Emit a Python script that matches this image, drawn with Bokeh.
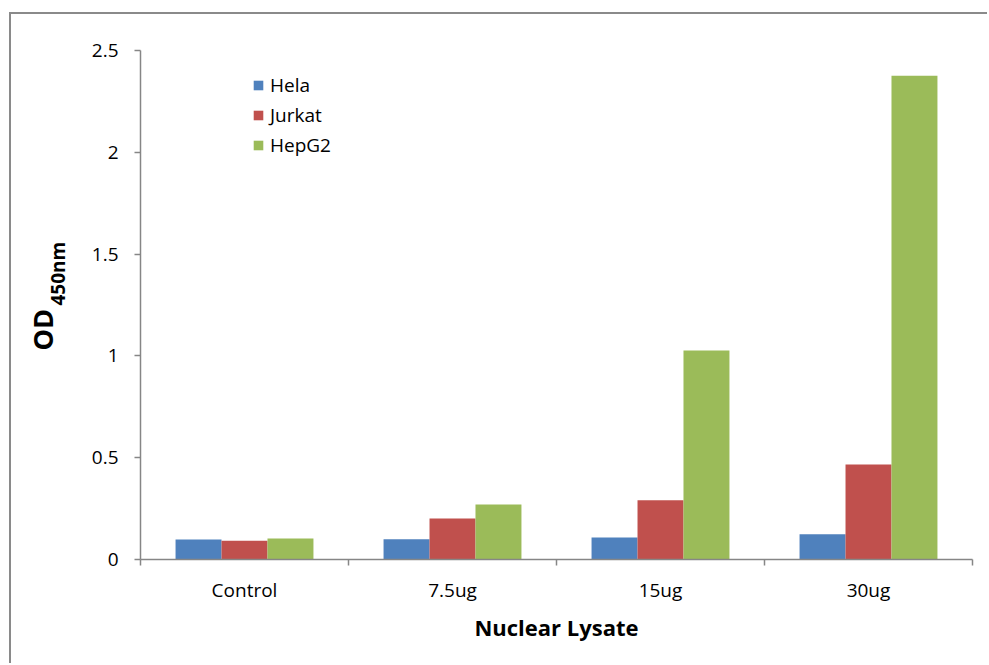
from bokeh.plotting import figure
from bokeh.models import (ColumnDataSource, FixedTicker, NumeralTickFormatter,
                          Range1d, Label, Legend)
from bokeh.transform import dodge
from bokeh.embed import file_html
from bokeh.resources import INLINE
import math

# ---- data ----
categories = ["Control", "7.5ug", "15ug", "30ug"]
hela = [0.098, 0.100, 0.108, 0.124]
jurkat = [0.092, 0.201, 0.291, 0.466]
hepg2 = [0.103, 0.270, 1.027, 2.376]
series_names = ["Hela", "Jurkat", "HepG2"]
series_colors = ["#4F81BD", "#C0504D", "#9BBB59"]
y_ticks = [0, 0.5, 1, 1.5, 2, 2.5]

FONT = "Open Sans"
AXIS_COLOR = "#868686"

xpos = [i + 0.5 for i in range(len(categories))]
src = ColumnDataSource(dict(x=xpos, cat=categories, Hela=hela, Jurkat=jurkat, HepG2=hepg2))

FW, FH = 832, 509
p = figure(
    frame_width=FW, frame_height=FH,
    min_border_left=129, min_border_top=36, min_border_right=15, min_border_bottom=104,
    x_range=Range1d(0, len(categories)), y_range=Range1d(0, 2.5),
    output_backend="svg", toolbar_location=None,
)
p.styles = {
    "border-top": "2px solid #8a8a8a",
    "border-left": "2px solid #8a8a8a",
    "margin-top": "12px",
    "margin-left": "9px",
}
p.extra_x_ranges = {"px": Range1d(0, FW)}
p.extra_y_ranges = {"py": Range1d(0, FH)}

p.background_fill_color = "white"
p.border_fill_color = "white"
p.outline_line_color = None
p.xgrid.visible = False
p.ygrid.visible = False

bw = 0.221
offsets = [-bw, 0.0, bw]
renderers = []
for name, color, off in zip(series_names, series_colors, offsets):
    r = p.vbar(x=dodge("x", off, range=p.x_range), top=name, width=bw, bottom=0,
               source=src, fill_color=color, line_color=None)
    renderers.append((name, r))

legend = Legend(items=[(n, [r]) for n, r in renderers])
legend.location = (112, 401)
legend.padding = 0
legend.margin = 0
legend.spacing = 4
legend.glyph_width = 12
legend.glyph_height = 12
legend.label_height = 26
legend.label_standoff = 6
legend.border_line_color = None
legend.background_fill_alpha = 0
legend.label_text_font = FONT
legend.label_text_font_size = "19px"
legend.label_text_color = "#000000"
p.add_layout(legend, "center")

# x axis
xa = p.xaxis[0]
xa.ticker = FixedTicker(ticks=xpos, minor_ticks=list(range(len(categories) + 1)))
xa.major_label_overrides = {x: c for x, c in zip(xpos, categories)}
xa.major_tick_line_color = None
xa.minor_tick_in = 0
xa.minor_tick_out = 6
xa.minor_tick_line_color = AXIS_COLOR
xa.minor_tick_line_width = 1.5
xa.axis_line_color = AXIS_COLOR
xa.axis_line_width = 1.5
xa.major_label_text_font = FONT
xa.major_label_text_font_size = "19px"
xa.major_label_text_color = "#000000"
xa.major_label_standoff = 11
xa.axis_label = "Nuclear Lysate"
xa.axis_label_text_font = FONT
xa.axis_label_text_font_style = "bold"
xa.axis_label_text_font_size = "22px"
xa.axis_label_text_color = "#000000"
xa.axis_label_standoff = 6

# y axis
ya = p.yaxis[0]
ya.ticker = FixedTicker(ticks=y_ticks, minor_ticks=[])
ya.formatter = NumeralTickFormatter(format="0.[0]")
ya.major_tick_in = 0
ya.major_tick_out = 6
ya.major_tick_line_color = AXIS_COLOR
ya.major_tick_line_width = 1.5
ya.axis_line_color = AXIS_COLOR
ya.axis_line_width = 1.5
ya.major_label_text_font = FONT
ya.major_label_text_font_size = "19px"
ya.major_label_text_color = "#000000"
ya.major_label_standoff = 16

# y axis title: OD with subscript 450nm
od = Label(x=-98, y=209, x_range_name="px", y_range_name="py", text="OD",
           angle=math.pi / 2, text_font=FONT, text_font_style="bold",
           text_font_size="27px", text_color="#000000",
           text_align="left", text_baseline="alphabetic")
sub = Label(x=-83, y=254, x_range_name="px", y_range_name="py", text="450nm",
            angle=math.pi / 2, text_font=FONT, text_font_style="bold",
            text_font_size="19px", text_color="#000000",
            text_align="left", text_baseline="alphabetic")
p.add_layout(od, "left")
p.add_layout(sub, "left")

open("out.html", "w").write(file_html(p, INLINE))
